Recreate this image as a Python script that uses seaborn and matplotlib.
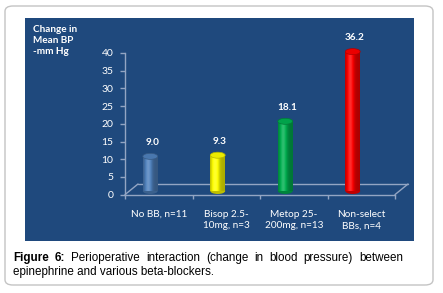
import numpy as np
import pandas as pd
import matplotlib
matplotlib.use("Agg")
import matplotlib.pyplot as plt
import seaborn as sns
from matplotlib.patches import Rectangle, FancyBboxPatch, Ellipse
import matplotlib.colors as mcolors

# ---------------- data ----------------
categories = ["No BB, n=11", "Bisop 2.5-\n10mg, n=3", "Metop 25-\n200mg, n=13", "Non-select\nBBs, n=4"]
values = [9.0, 9.3, 18.1, 36.2]
value_labels = ["9.0", "9.3", "18.1", "36.2"]
bar_colors = ["#4F81BD", "#FFFF00", "#00B050", "#FF0000"]
y_ticks = [0, 5, 10, 15, 20, 25, 30, 35, 40]
y_label_lines = ["Change in", "Mean BP", "-mm Hg"]
caption_bold = "Figure 6:"
caption_line1 = "Perioperative interaction (change in blood pressure) between"
caption_line2 = "epinephrine and various beta-blockers."

W, H, DPI = 443, 293, 100
sns.set_theme(style="white")
plt.rcParams['font.family'] = ['Lato', 'DejaVu Sans']

fig = plt.figure(figsize=(W / DPI, H / DPI), dpi=DPI)
fig.patch.set_facecolor('white')


def fx(px):
    return px / W


def fy(py):
    return 1 - py / H


PANEL = '#1F497D'
AXC = '#93A5C3'

# outer rounded border
fig.patches.append(FancyBboxPatch((fx(5), fy(285)), fx(433) - fx(5), fy(6) - fy(285),
                                  boxstyle="round,pad=0,rounding_size=0.018",
                                  transform=fig.transFigure, facecolor='white',
                                  edgecolor='#C4C4C4', linewidth=1.0, zorder=-2))
# dark blue chart panel
fig.patches.append(Rectangle((fx(25), fy(241)), fx(414) - fx(25), fy(18) - fy(241),
                             transform=fig.transFigure, facecolor=PANEL,
                             edgecolor='none', zorder=-1))

# ---------------- main (scale) axes ----------------
y0px, y40px = 194.6, 53
ax = fig.add_axes([fx(125), fy(y0px), fx(395) - fx(125), (y0px - y40px) / H])
ax.patch.set_alpha(0)
ax.set_xlim(-0.5, 3.5)
ax.set_ylim(0, 40)
for s in ['top', 'right']:
    ax.spines[s].set_visible(False)
for s in ['left', 'bottom']:
    ax.spines[s].set_color(AXC)
    ax.spines[s].set_linewidth(1.0)
ax.set_yticks(y_ticks)
ax.set_yticklabels([str(v) for v in y_ticks])
ax.tick_params(axis='y', direction='out', length=3.5, width=1, color=AXC,
               labelcolor='white', labelsize=7.5, pad=5, left=True)
ax.set_xticks(range(len(categories)))
ax.set_xticklabels(categories, linespacing=1.35)
ax.tick_params(axis='x', which='major', length=0, pad=11, labelcolor='white', labelsize=7.2)
ax.set_xticks(np.arange(-0.5, len(categories), 1.0), minor=True)
ax.tick_params(axis='x', which='minor', direction='out', length=3, width=1, color=AXC, bottom=True)
ax.grid(False)

# 3-D floor outline
dx = 13 / 270
dy = (y0px - 184) / (y0px - y40px)
kw = dict(transform=ax.transAxes, color=AXC, lw=1.0, clip_on=False)
ax.plot([dx, 1 + dx], [dy, dy], **kw)
ax.plot([0, dx], [0, dy], **kw)
ax.plot([1, 1 + dx], [0, dy], **kw)

# ---------------- bar axes (perspective scale) ----------------
pxu = 3.85
top_px = 30
ax2 = fig.add_axes([fx(125), fy(y0px), fx(395) - fx(125), (y0px - top_px) / H])
ax2.patch.set_alpha(0)
df = pd.DataFrame({"cat": categories, "val": values})
sns.barplot(data=df, x="cat", y="val", hue="cat", palette=bar_colors, width=0.22,
            legend=False, ax=ax2, saturation=1)
ax2.set_axis_off()

yb = -(y0px - 191) / pxu
xshift = 8.5 / 67.5
ell_h = 6.0 / pxu


def shade(c, s):
    c = np.array(mcolors.to_rgb(c))
    if s <= 1:
        return tuple(c * s)
    return tuple(c + (1 - c) * (s - 1))


t = np.linspace(0, 1, 80)
prof = 0.68 + 0.5 * np.exp(-((t - 0.35) / 0.25) ** 2)
bars = [p for p in ax2.patches if isinstance(p, Rectangle)]
bars = sorted(bars, key=lambda p: p.get_x())
for p, col, lbl in zip(bars, bar_colors, value_labels):
    x0, w = p.get_x(), p.get_width()
    h = p.get_height()
    cx = x0 + w / 2
    z = p.get_zorder()
    p.set_facecolor(shade(col, 0.85))
    p.set_edgecolor('none')
    img = np.array([[shade(col, min(s, 1.25)) for s in prof]])
    im = ax2.imshow(img, extent=[x0, x0 + w, 0, h], aspect='auto',
                    interpolation='bilinear', zorder=z + 0.1)
    im.set_clip_path(p)
    ax2.add_patch(Ellipse((cx, 0), w, ell_h, facecolor=shade(col, 0.75),
                          edgecolor='none', zorder=z - 0.1))
    ax2.add_patch(Ellipse((cx, h), w, ell_h, facecolor=shade(col, 0.92),
                          edgecolor=shade(col, 0.7), lw=0.5, zorder=z + 0.2))
    ax2.annotate(lbl, xy=(cx, h), xytext=(2, 14), textcoords='offset pixels',
                 ha='center', va='center', color='white', fontweight='bold',
                 fontsize=7.2)

ax2.set_xlim(-0.5 + xshift, 3.5 + xshift)
ax2.set_ylim(yb, yb + (y0px - top_px) / pxu)

# y axis title
fig.text(fx(33), fy(25), "\n".join(y_label_lines), ha='left', va='top', color='white',
         fontweight='bold', fontsize=7.2, linespacing=1.3)

# ---------------- caption ----------------
cap_fs = 8.4
renderer = fig.canvas.get_renderer()
words = [(w_, 'bold') for w_ in caption_bold.split()] + [(w_, 'normal') for w_ in caption_line1.split()]
texts = []
for w_, wt in words:
    tx = fig.text(0, 0, w_, fontsize=cap_fs, fontweight=wt, family='Liberation Sans',
                  ha='left', va='baseline', color='black')
    texts.append(tx)
widths = [tx.get_window_extent(renderer).width for tx in texts]
left, right = 13, 403
gap = (right - left - sum(widths)) / (len(texts) - 1)
xp = left
for tx, wd in zip(texts, widths):
    tx.set_position((fx(xp), fy(261)))
    xp += wd + gap
fig.text(fx(left), fy(275), caption_line2, fontsize=cap_fs, family='Liberation Sans',
         ha='left', va='baseline', color='black')

fig.savefig('out.png', dpi=DPI)
